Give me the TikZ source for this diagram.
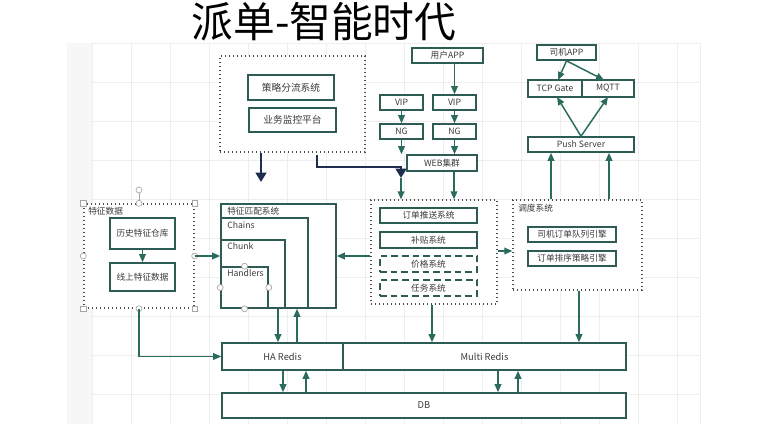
\documentclass[tikz,border=0pt]{standalone}
\usepackage{fontspec}
\setmainfont{Noto Sans CJK SC}
\usetikzlibrary{arrows.meta}
\definecolor{boxc}{HTML}{2E5B54}
\definecolor{arrc}{HTML}{2A6B5E}
\definecolor{navc}{HTML}{1D2F4C}
\definecolor{txtc}{HTML}{3A3A3A}
\begin{document}
\begin{tikzpicture}[x=0.75pt,y=-0.75pt,
  sz/.style 2 args={minimum width={#1*0.75pt},minimum height={#2*0.75pt}},
  bx/.style={draw=boxc,line width=1.2pt,fill=white,inner sep=0pt,text=txtc,font=\fontsize{6.5}{7}\selectfont},
  bigbx/.style={bx,font=\fontsize{7.3}{8}\selectfont},
  dotbox/.style={draw=gray!60!black,dotted,line width=1pt,fill=white,inner sep=0pt},
  dashbx/.style={bx,dashed,dash pattern=on 5pt off 3pt},
  lbl/.style={anchor=west,inner sep=0pt,text=txtc,font=\fontsize{6.5}{7}\selectfont},
  arr/.style={draw=arrc,line width=1.1pt,-{Triangle[length=6pt,width=5pt]}},
  navarr/.style={draw=navc,line width=1.6pt,-{Triangle[length=7pt,width=8pt]}},
  hc/.style={circle,draw=gray!70,fill=white,inner sep=0pt,minimum size=4.5pt,line width=0.5pt},
  hs/.style={rectangle,draw=gray!70,fill=white,inner sep=0pt,minimum size=4pt,line width=0.5pt}]
\useasboundingbox (0,0) rectangle (759,424);
\fill[white] (0,0) rectangle (759,424);
% canvas background
\fill[gray!6] (67,43) rectangle (92,424);
\draw[gray!13,line width=0.5pt] (92,43) rectangle (700,424);
\foreach \gx in {131,170,209,248,287,326,365,404,443,482,521,560,599,638,677}
  \draw[gray!13,line width=0.5pt] (\gx,43) -- (\gx,424);
\foreach \gy in {82,121,160,199,238,277,316,355,394}
  \draw[gray!13,line width=0.5pt] (92,\gy) -- (700,\gy);
% title
\node[inner sep=0pt,font=\fontsize{31.3}{33}\selectfont] (title) at (324,22) {派单-智能时代};
% strategy block
\node[dotbox,sz={145}{96}] (strat) at (292.5,104) {};
\node[bigbx,sz={86}{25}] (celue) at (291,87.5) {策略分流系统};
\node[bigbx,sz={87}{24}] (jiankong) at (292.5,120) {业务监控平台};
% user app chain
\node[bx,sz={71}{15}] (userapp) at (447.5,55.5) {用户APP};
\node[bx,sz={43}{15}] (vipa) at (401.5,102.5) {VIP};
\node[bx,sz={43}{15}] (vipb) at (454.5,102.5) {VIP};
\node[bx,sz={43}{15}] (nga) at (401.5,131.5) {NG};
\node[bx,sz={43}{15}] (ngb) at (454.5,131.5) {NG};
\node[bx,sz={70}{16}] (web) at (442,163) {WEB集群};
% driver app chain
\node[bx,sz={59}{15}] (driverapp) at (566.5,52.5) {司机APP};
\node[bx,sz={54}{17}] (tcp) at (555,88.5) {TCP Gate};
\node[bx,sz={52}{17}] (mqtt) at (608,88.5) {MQTT};
\node[bx,sz={106}{15}] (push) at (581,144.5) {Push Server};
% order block
\node[dotbox,sz={126}{104}] (order) at (434,252) {};
\node[bx,sz={97}{15}] (tuisong) at (428.5,215.5) {订单推送系统};
\node[bx,sz={97}{16}] (butie) at (428.5,240) {补贴系统};
\node[dashbx,sz={97}{16}] (jiage) at (428.5,264) {价格系统};
\node[dashbx,sz={97}{16}] (renwu) at (428.5,288) {任务系统};
% dispatch block
\node[dotbox,sz={129}{90}] (dispatch) at (577.5,245) {};
\node[lbl] (dispatchlbl) at (518,208) {调度系统};
\node[bx,sz={88}{15}] (siji) at (572,234.5) {司机订单队列引擎};
\node[bx,sz={88}{15}] (paixu) at (572,258.5) {订单排序策略引擎};
% feature match block
\node[bx,sz={115}{104}] (feat) at (278.5,256) {};
\node[bx,sz={87}{90}] (chains) at (264.5,263) {};
\node[bx,sz={64}{68}] (chunk) at (253,274) {};
\node[bx,sz={47}{41}] (handlers) at (244.5,287.5) {};
\node[lbl] (featlbl) at (227,211) {特征匹配系统};
\node[lbl] (chainslbl) at (227,225) {Chains};
\node[lbl] (chunklbl) at (227,246) {Chunk};
\node[lbl] (handlerslbl) at (227,273) {Handlers};
\node[hc] (hh1) at (handlers.north) {};
\node[hc] (hh2) at (handlers.west) {};
\node[hc] (hh3) at (handlers.east) {};
\node[hc] (hh4) at (handlers.south) {};
% feature data block
\node[dotbox,sz={110}{104}] (featdata) at (139,256) {};
\node[lbl] (featdatalbl) at (88,211) {特征数据};
\node[bx,sz={65}{31}] (lishi) at (142.5,233.5) {历史特征仓库};
\node[bx,sz={65}{28}] (xianshang) at (142.5,277) {线上特征数据};
\node[hc] (rot) at (139,190) {};
\draw[gray!70,line width=0.5pt] (rot) -- (featdata.north);
\node[hs] (c1) at (featdata.north west) {};
\node[hs] (c2) at (featdata.north east) {};
\node[hs] (c3) at (featdata.south west) {};
\node[hs] (c4) at (featdata.south east) {};
\node[hc] (m1) at (featdata.north) {};
\node[hc] (m2) at (featdata.west) {};
\node[hc] (m3) at (featdata.east) {};
\node[hc] (m4) at (featdata.south) {};
% storage
\node[bx,font=\fontsize{7}{8}\selectfont,sz={121}{27}] (ha) at (282.5,356.5) {HA Redis};
\node[bx,font=\fontsize{7}{8}\selectfont,sz={283}{27}] (multi) at (484.5,356.5) {Multi Redis};
\node[bx,font=\fontsize{7}{8}\selectfont,sz={404}{25}] (db) at (424,405.5) {DB};
% coordinates
\coordinate (n1) at (261,182);
\coordinate (n2s) at (317,155);
\coordinate (n2e) at (401,178);
\coordinate (xb) at (454,0);
% arrows: user side
\draw[arr] (vipb.north |- userapp.south) -- (vipb.north);
\draw[arr] (vipa) -- (nga);
\draw[arr] (vipb) -- (ngb);
\draw[arr] (nga.south) -- (nga.south |- web.north);
\draw[arr] (ngb.south) -- (ngb.south |- web.north);
\draw[arr] (web.south -| xb) -- (order.north -| xb);
\draw[arr] (n2e) -- (order.north -| n2e);
% navy arrows
\draw[navarr] (n1 |- strat.south) -- (n1);
\draw[navarr] (n2s) -- (317,167) -- (401,167) -- (n2e);
% driver side
\draw[arr] (driverapp.south) -- (558,80);
\draw[arr] (driverapp.south) -- (604,80);
\draw[arr] (push.north) -- (557,97);
\draw[arr] (push.north) -- (608,97);
\draw[arr] (dispatch.north -| 551,0) -- (push.south -| 551,0);
\draw[arr] (dispatch.north -| 609,0) -- (push.south -| 609,0);
% horizontal links
\draw[arr] (order.east |- 0,251) -- (dispatch.west |- 0,251);
\draw[arr] (order.west |- 0,256) -- (feat.east |- 0,256);
\draw[arr] (featdata.east |- 0,256) -- (feat.west |- 0,256);
\draw[arr] (lishi) -- (xianshang);
\draw[arr] (featdata.south) |- (ha.west);
% to storage
\draw[arr] (feat.south -| 278,0) -- (ha.north -| 278,0);
\draw[arr] (ha.north -| 297,0) -- (feat.south -| 297,0);
\draw[arr] (order.south -| 432,0) -- (multi.north -| 432,0);
\draw[arr] (dispatch.south -| 579,0) -- (multi.north -| 579,0);
\draw[arr] (ha.south -| 283,0) -- (db.north -| 283,0);
\draw[arr] (db.north -| 306,0) -- (ha.south -| 306,0);
\draw[arr] (multi.south -| 498,0) -- (db.north -| 498,0);
\draw[arr] (db.north -| 518,0) -- (multi.south -| 518,0);
\end{tikzpicture}
\end{document}
